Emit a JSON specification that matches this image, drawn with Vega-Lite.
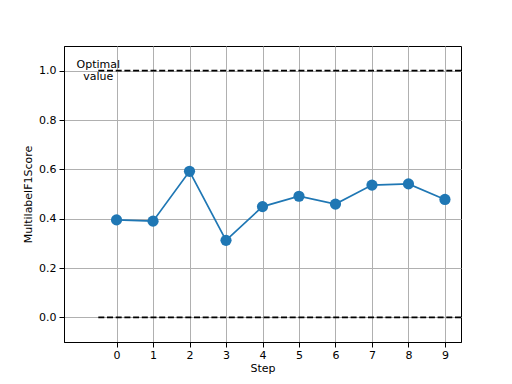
{
  "$schema": "https://vega.github.io/schema/vega-lite/v6.json",
  "width": 397,
  "height": 296,
  "autosize": {"type": "none"},
  "padding": {"left": 64, "top": 46, "right": 51, "bottom": 42},
  "background": "white",
  "config": {
    "font": "DejaVu Sans",
    "view": {"stroke": "black", "strokeWidth": 1},
    "axis": {
      "domainColor": "black",
      "domainWidth": 1,
      "tickColor": "black",
      "tickSize": 5,
      "tickWidth": 1,
      "labelFont": "DejaVu Sans",
      "labelFontSize": 11,
      "labelColor": "black",
      "titleFont": "DejaVu Sans",
      "titleFontSize": 11,
      "titleFontWeight": "normal",
      "titleColor": "black",
      "gridColor": "#b0b0b0",
      "gridWidth": 1,
      "gridOpacity": 1,
      "labelPadding": 3
    }
  },
  "datasets": {
    "scores": [
      {"Step": 0, "MultilabelF1Score": 0.395},
      {"Step": 1, "MultilabelF1Score": 0.390},
      {"Step": 2, "MultilabelF1Score": 0.592},
      {"Step": 3, "MultilabelF1Score": 0.312},
      {"Step": 4, "MultilabelF1Score": 0.449},
      {"Step": 5, "MultilabelF1Score": 0.491},
      {"Step": 6, "MultilabelF1Score": 0.459},
      {"Step": 7, "MultilabelF1Score": 0.536},
      {"Step": 8, "MultilabelF1Score": 0.541},
      {"Step": 9, "MultilabelF1Score": 0.478}
    ],
    "refs": [
      {"start": -0.5, "end": 9.5, "level": 0.0},
      {"start": -0.5, "end": 9.5, "level": 1.0}
    ],
    "label": [
      {"xpos": -0.5, "ypos": 1.0, "text": ["Optimal", "value"]}
    ]
  },
  "layer": [
    {
      "data": {"name": "refs"},
      "mark": {"type": "rule", "color": "black", "strokeWidth": 1.7, "strokeDash": [6, 2.7], "clip": true},
      "encoding": {
        "x": {"field": "start", "type": "quantitative", "scale": {"domain": [-1.44, 9.44], "nice": false, "zero": false},
          "axis": {"values": [0,1,2,3,4,5,6,7,8,9], "title": "Step", "grid": true, "format": "d", "labelPadding": 2, "titlePadding": 2}},
        "x2": {"field": "end"},
        "y": {"field": "level", "type": "quantitative", "scale": {"domain": [-0.1, 1.1], "nice": false, "zero": false},
          "axis": {"values": [0, 0.2, 0.4, 0.6, 0.8, 1.0], "format": ".1f", "title": "MultilabelF1Score", "grid": true, "titlePadding": 5}}
      }
    },
    {
      "data": {"name": "label"},
      "mark": {"type": "text", "fontSize": 11, "font": "DejaVu Sans", "color": "black", "align": "center", "baseline": "middle", "lineHeight": 12, "dy": -6},
      "encoding": {
        "x": {"field": "xpos", "type": "quantitative"},
        "y": {"field": "ypos", "type": "quantitative"},
        "text": {"field": "text"}
      }
    },
    {
      "data": {"name": "scores"},
      "mark": {"type": "line", "color": "#1f77b4", "strokeWidth": 1.7},
      "encoding": {
        "x": {"field": "Step", "type": "quantitative"},
        "y": {"field": "MultilabelF1Score", "type": "quantitative"}
      }
    },
    {
      "data": {"name": "scores"},
      "mark": {"type": "circle", "color": "#1f77b4", "opacity": 1, "size": 125},
      "encoding": {
        "x": {"field": "Step", "type": "quantitative"},
        "y": {"field": "MultilabelF1Score", "type": "quantitative"}
      }
    }
  ]
}
